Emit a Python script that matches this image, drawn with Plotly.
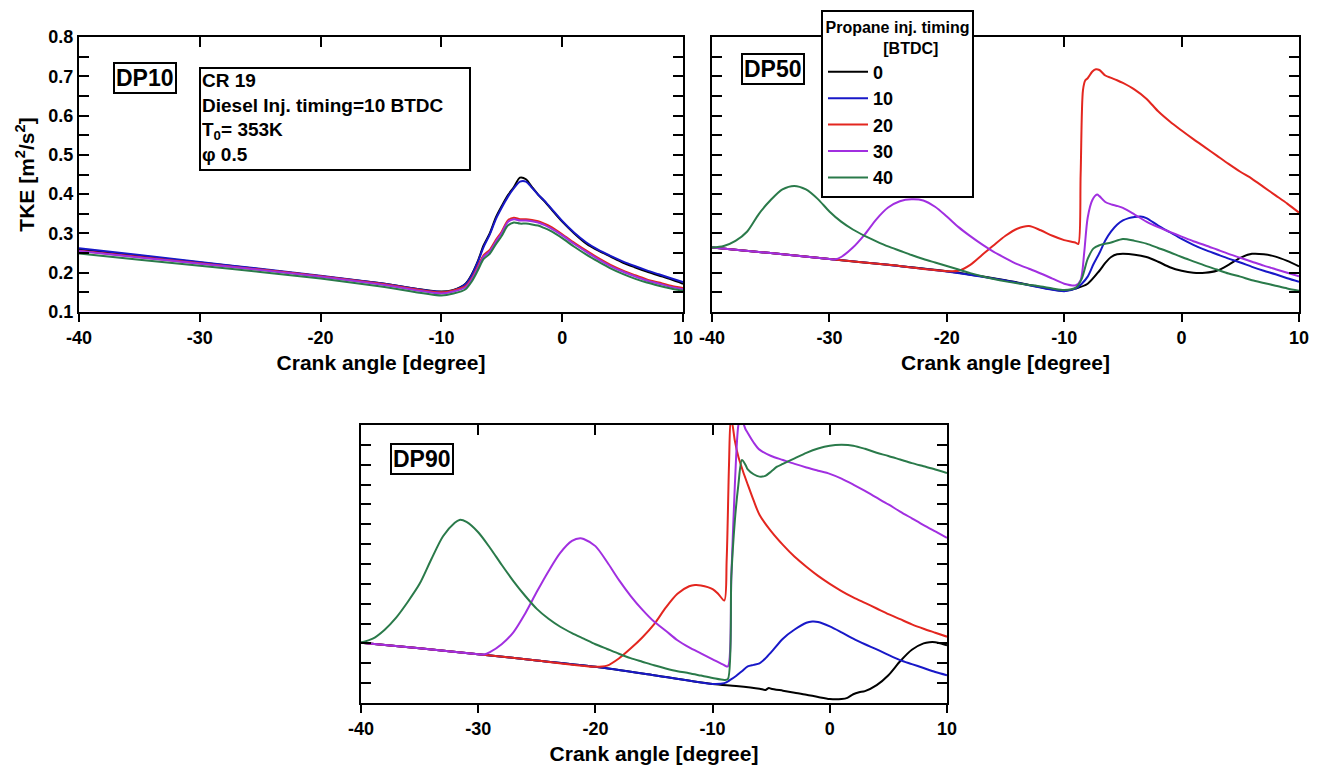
import plotly.graph_objects as go

# ---------------- data ----------------
x_ticks = [-40, -30, -20, -10, 0, 10]
x_ticktext = ["-40", "-30", "-20", "-10", "0", "10"]
y_ticks = [0.1, 0.2, 0.3, 0.4, 0.5, 0.6, 0.7, 0.8]
y_ticktext = ["0.1", "0.2", "0.3", "0.4", "0.5", "0.6", "0.7", "0.8"]
series_names = ["0", "10", "20", "30", "40"]
series_colors = ["#000000", "#1818c8", "#e3261f", "#a12fe0", "#2a7a4a"]

# DP10 (shared crank-angle grid)
dp10_x = [-40, -35, -30, -25, -20, -15, -10, -9, -8, -7.5, -7, -6.5, -6, -5.5, -5, -4.5, -4,
          -3.5, -3, -2.5, -2, -1.5, -1, 0, 1, 2, 3, 4, 5, 6, 7, 8, 9, 10]
dp10_y0 = [0.260, 0.243, 0.226, 0.209, 0.191, 0.173, 0.152, 0.156, 0.172, 0.195, 0.228, 0.270,
           0.300, 0.340, 0.370, 0.397, 0.418, 0.442, 0.438, 0.418, 0.399, 0.383, 0.365, 0.330,
           0.300, 0.274, 0.256, 0.241, 0.226, 0.214, 0.203, 0.193, 0.183, 0.172]
dp10_y10 = [0.262, 0.245, 0.227, 0.210, 0.192, 0.173, 0.151, 0.155, 0.171, 0.193, 0.226, 0.266,
            0.297, 0.336, 0.366, 0.393, 0.415, 0.432, 0.432, 0.416, 0.399, 0.384, 0.367, 0.332,
            0.302, 0.277, 0.258, 0.243, 0.229, 0.217, 0.206, 0.196, 0.186, 0.176]
dp10_y20 = [0.256, 0.240, 0.224, 0.208, 0.191, 0.172, 0.150, 0.155, 0.166, 0.185, 0.215, 0.245,
            0.258, 0.283, 0.305, 0.333, 0.340, 0.336, 0.336, 0.334, 0.331, 0.325, 0.318, 0.298,
            0.276, 0.256, 0.237, 0.220, 0.206, 0.194, 0.183, 0.175, 0.167, 0.161]
dp10_y30 = [0.255, 0.239, 0.223, 0.207, 0.190, 0.170, 0.147, 0.152, 0.163, 0.182, 0.211, 0.241,
            0.254, 0.279, 0.301, 0.329, 0.336, 0.333, 0.333, 0.331, 0.328, 0.322, 0.314, 0.295,
            0.273, 0.253, 0.234, 0.217, 0.203, 0.191, 0.180, 0.172, 0.164, 0.158]
dp10_y40 = [0.249, 0.233, 0.218, 0.202, 0.185, 0.165, 0.142, 0.147, 0.158, 0.177, 0.205, 0.235,
            0.248, 0.272, 0.294, 0.320, 0.328, 0.325, 0.325, 0.323, 0.320, 0.314, 0.307, 0.288,
            0.266, 0.246, 0.228, 0.211, 0.197, 0.185, 0.175, 0.167, 0.160, 0.154]

# DP50
dp50_x0 = [-40, -35, -30, -25, -20, -15, -10, -9, -8, -7, -6.5, -6, -5.5, -5, -4, -3, -2, -1,
           0, 1, 2, 3, 4, 5, 6, 7, 8, 9, 10]
dp50_y0 = [0.264, 0.250, 0.235, 0.220, 0.204, 0.181, 0.154, 0.160, 0.172, 0.205, 0.225, 0.240,
           0.247, 0.248, 0.246, 0.240, 0.228, 0.214, 0.205, 0.200, 0.200, 0.205, 0.220, 0.238,
           0.248, 0.247, 0.241, 0.230, 0.216]
dp50_x10 = [-40, -35, -30, -25, -20, -15, -10, -9, -8.5, -8, -7.5, -7, -6.5, -6, -5.5, -5, -4.5,
            -4, -3.5, -3, -2, -1, 0, 1, 2, 3, 4, 5, 6, 7, 8, 9, 10]
dp50_y10 = [0.264, 0.250, 0.235, 0.220, 0.203, 0.180, 0.153, 0.160, 0.172, 0.190, 0.222, 0.250,
            0.282, 0.305, 0.322, 0.333, 0.339, 0.342, 0.343, 0.339, 0.320, 0.303, 0.286, 0.271,
            0.258, 0.247, 0.236, 0.226, 0.215, 0.205, 0.196, 0.186, 0.177]
dp50_x20 = [-40, -35, -30, -25, -20, -19, -18, -17, -16, -15, -14, -13, -12, -11, -10, -9, -8.8,
            -8.6, -8.4, -8.2, -8, -7.6, -7.3, -7, -6.5, -6, -5.5, -5, -4, -3, -2, -1, 0, 1, 2, 3,
            4, 5, 6, 7, 8, 9, 10]
dp50_y20 = [0.264, 0.250, 0.235, 0.220, 0.204, 0.205, 0.220, 0.245, 0.270, 0.294, 0.312, 0.319,
            0.308, 0.294, 0.283, 0.276, 0.273, 0.450, 0.665, 0.690, 0.695, 0.712, 0.718, 0.716,
            0.702, 0.696, 0.690, 0.683, 0.666, 0.643, 0.611, 0.585, 0.562, 0.540, 0.519, 0.498,
            0.477, 0.457, 0.439, 0.418, 0.397, 0.376, 0.353]
dp50_x30 = [-40, -35, -30, -29.5, -29, -28, -27, -26, -25, -24, -23, -22, -21, -20, -19, -18,
            -17, -16, -15, -14, -13, -12, -11, -10, -9, -8.6, -8.3, -8, -7.6, -7.2, -7, -6.5, -6,
            -5.5, -5, -4, -3, -2, -1, 0, 1, 2, 3, 4, 5, 6, 7, 8, 9, 10]
dp50_y30 = [0.264, 0.250, 0.235, 0.234, 0.240, 0.264, 0.297, 0.336, 0.366, 0.382, 0.387, 0.384,
            0.368, 0.343, 0.316, 0.293, 0.272, 0.253, 0.237, 0.222, 0.210, 0.198, 0.185, 0.172,
            0.168, 0.181, 0.250, 0.340, 0.385, 0.399, 0.395, 0.380, 0.374, 0.370, 0.365, 0.348,
            0.330, 0.316, 0.304, 0.292, 0.280, 0.270, 0.259, 0.248, 0.238, 0.228, 0.218, 0.209,
            0.200, 0.191]
dp50_x40 = [-40, -39, -38, -37, -36, -35, -34, -33, -32, -31, -30, -29, -28, -27, -26, -25, -24,
            -23, -22, -21, -20, -19, -18, -17, -16, -15, -14, -13, -12, -11, -10, -9, -8.5, -8,
            -7.5, -7, -6, -5, -4, -3, -2, -1, 0, 1, 2, 3, 4, 5, 6, 7, 8, 9, 10]
dp50_y40 = [0.264, 0.268, 0.281, 0.305, 0.350, 0.385, 0.412, 0.421, 0.412, 0.388, 0.356, 0.330,
            0.310, 0.294, 0.280, 0.267, 0.256, 0.245, 0.235, 0.226, 0.217, 0.208, 0.199, 0.191,
            0.184, 0.178, 0.173, 0.169, 0.165, 0.160, 0.156, 0.162, 0.185, 0.235, 0.262, 0.270,
            0.277, 0.286, 0.281, 0.274, 0.263, 0.252, 0.240, 0.229, 0.218, 0.208, 0.198, 0.190,
            0.181, 0.174, 0.167, 0.160, 0.154]

# DP90
dp90_x0 = [-40, -35, -30, -25, -20, -15, -10, -8, -6, -5.5, -5.2, -5, -4, -3, -2, -1, 0, 1, 1.5,
           2, 2.5, 3, 4, 5, 6, 7, 8, 8.5, 9, 9.5, 10]
dp90_y0 = [0.252, 0.238, 0.223, 0.207, 0.191, 0.170, 0.148, 0.143, 0.136, 0.133, 0.138, 0.136,
           0.131, 0.126, 0.121, 0.115, 0.110, 0.110, 0.113, 0.122, 0.127, 0.130, 0.145, 0.170,
           0.205, 0.234, 0.250, 0.253, 0.253, 0.250, 0.245]
dp90_x10 = [-40, -35, -30, -25, -20, -15, -10, -9, -8.5, -8, -7.5, -7, -6.5, -6, -5.5, -5, -4,
            -3, -2, -1.5, -1, 0, 1, 2, 3, 4, 5, 6, 7, 8, 9, 10]
dp90_y10 = [0.252, 0.238, 0.223, 0.207, 0.191, 0.170, 0.148, 0.150, 0.158, 0.168, 0.180, 0.192,
            0.196, 0.200, 0.212, 0.228, 0.262, 0.285, 0.302, 0.305, 0.304, 0.293, 0.278, 0.262,
            0.248, 0.235, 0.221, 0.208, 0.198, 0.188, 0.178, 0.170]
dp90_x20 = [-40, -35, -30, -25, -20, -19, -18, -17, -16, -15, -14, -13, -12, -11.5, -11, -10,
            -9.5, -9, -8.8, -8.6, -8.45, -8.3, -8.1, -7.8, -7.4, -7, -6.5, -6, -5, -4, -3, -2, -1,
            0, 1, 2, 3, 4, 5, 6, 7, 8, 9, 10]
dp90_y20 = [0.252, 0.238, 0.223, 0.207, 0.191, 0.194, 0.212, 0.237, 0.265, 0.298, 0.340, 0.375,
            0.394, 0.397, 0.396, 0.387, 0.374, 0.358, 0.460, 0.700, 0.815, 0.800, 0.760, 0.720,
            0.683, 0.650, 0.610, 0.574, 0.532, 0.498, 0.468, 0.443, 0.420, 0.400, 0.382, 0.366,
            0.352, 0.338, 0.324, 0.311, 0.298, 0.287, 0.277, 0.267]
dp90_x30 = [-40, -35, -30, -29.5, -29, -28, -27, -26, -25, -24, -23, -22, -21.3, -21, -20, -19,
            -18, -17, -16, -15, -14, -13, -12, -11, -10, -9, -8.7, -8.4, -8.1, -7.8, -7.6, -7.2,
            -7, -6.5, -6, -5, -4, -3, -2, -1, 0, 1, 2, 3, 4, 5, 6, 7, 8, 9, 10]
dp90_y30 = [0.252, 0.238, 0.223, 0.222, 0.228, 0.248, 0.278, 0.325, 0.380, 0.432, 0.478, 0.508,
            0.515, 0.513, 0.495, 0.455, 0.410, 0.370, 0.335, 0.305, 0.282, 0.258, 0.240, 0.225,
            0.210, 0.195, 0.192, 0.420, 0.650, 0.800, 0.820, 0.790, 0.780, 0.756, 0.738, 0.722,
            0.712, 0.702, 0.693, 0.685, 0.677, 0.665, 0.650, 0.634, 0.617, 0.600, 0.582, 0.565,
            0.548, 0.532, 0.516]
dp90_x40 = [-40, -39, -38, -37, -36, -35, -34, -33, -32, -31.6, -31, -30, -29, -28, -27, -26,
            -25, -24, -23, -22, -21, -20, -19, -18, -17, -16, -15, -14, -13, -12, -11, -10, -9,
            -8.7, -8.4, -8.1, -7.8, -7.5, -7.2, -7, -6.5, -6, -5.5, -5, -4.5, -4, -3, -2, -1, 0,
            1, 2, 3, 4, 5, 6, 7, 8, 9, 10]
dp90_y40 = [0.252, 0.262, 0.284, 0.315, 0.355, 0.400, 0.462, 0.520, 0.554, 0.561, 0.556, 0.530,
            0.491, 0.448, 0.407, 0.370, 0.337, 0.312, 0.292, 0.276, 0.262, 0.248, 0.236, 0.224,
            0.213, 0.204, 0.195, 0.187, 0.180, 0.175, 0.169, 0.163, 0.158, 0.160, 0.420, 0.560,
            0.650, 0.712, 0.700, 0.688, 0.676, 0.670, 0.672, 0.683, 0.695, 0.702, 0.716, 0.730,
            0.741, 0.748, 0.750, 0.748, 0.740, 0.730, 0.722, 0.713, 0.704, 0.696, 0.688, 0.679]

panels = [
    ("x", "y", [(dp10_x, dp10_y0), (dp10_x, dp10_y10), (dp10_x, dp10_y20),
                (dp10_x, dp10_y30), (dp10_x, dp10_y40)], False),
    ("x2", "y2", [(dp50_x0, dp50_y0), (dp50_x10, dp50_y10), (dp50_x20, dp50_y20),
                  (dp50_x30, dp50_y30), (dp50_x40, dp50_y40)], True),
    ("x3", "y3", [(dp90_x0, dp90_y0), (dp90_x10, dp90_y10), (dp90_x20, dp90_y20),
                  (dp90_x30, dp90_y30), (dp90_x40, dp90_y40)], False),
]

# ---------------- figure ----------------
W, H = 1322, 766
FONT = "Arial, Liberation Sans, sans-serif"
fig = go.Figure()

for xa, ya, series, legend in panels:
    for i in range(5):
        xs, ys = series[i]
        fig.add_trace(go.Scatter(
            x=xs, y=ys, mode="lines", name=series_names[i],
            line=dict(color=series_colors[i], width=2, shape="spline", smoothing=0.8),
            xaxis=xa, yaxis=ya, showlegend=legend,
        ))

# dummy traces to register the top tick axes
for xa, ya in [("x4", "y"), ("x5", "y2"), ("x6", "y3")]:
    fig.add_trace(go.Scatter(x=[None], y=[None], xaxis=xa, yaxis=ya,
                             showlegend=False, hoverinfo="skip"))


def px_x(a, b):
    return [a / W, b / W]


def px_y(top, bottom):
    return [1 - bottom / H, 1 - top / H]


tickfont = dict(family=FONT, size=18, color="black", weight="bold")
titlefont = dict(family=FONT, size=21, color="black", weight="bold")


def xaxis(domain, anchor):
    return dict(domain=domain, anchor=anchor, range=[-40, 10], automargin=False,
                tickmode="array", tickvals=x_ticks, ticktext=x_ticktext,
                ticks="outside", ticklen=8, tickwidth=2, tickcolor="black",
                showline=True, linewidth=2, linecolor="black", mirror=True,
                showgrid=False, zeroline=False, tickfont=tickfont,
                title=dict(text="Crank angle [degree]", font=titlefont, standoff=9))


def topaxis(domain, anchor, over):
    return dict(domain=domain, anchor=anchor, overlaying=over, side="top",
                range=[-40, 10], tickmode="array", tickvals=x_ticks, automargin=False,
                ticks="inside", ticklen=10, tickwidth=2, tickcolor="black",
                showticklabels=False, showline=False, showgrid=False, zeroline=False)


def yaxis(domain, anchor, labels):
    d = dict(domain=domain, anchor=anchor, range=[0.1, 0.8], automargin=False,
             tickmode="array", tickvals=y_ticks, ticktext=y_ticktext,
             ticks="inside", ticklen=10, tickwidth=2, tickcolor="black",
             minor=dict(tickmode="linear", tick0=0.1, dtick=0.05, ticks="inside",
                        ticklen=10, tickwidth=2, tickcolor="black", showgrid=False),
             showline=True, linewidth=2, linecolor="black", mirror="ticks",
             showgrid=False, zeroline=False, tickfont=tickfont,
             showticklabels=labels)
    if labels:
        d["title"] = dict(text="TKE [m<sup>2</sup>/s<sup>2</sup>]", font=titlefont, standoff=8)
    return d


dx1, dx2, dx3 = px_x(79, 683), px_x(712, 1299), px_x(361, 947)
dyt, dyb = px_y(37, 312), px_y(425, 703)

fig.update_layout(
    width=W, height=H, autosize=False,
    margin=dict(l=0, r=0, t=0, b=0, autoexpand=False),
    paper_bgcolor="white", plot_bgcolor="white",
    xaxis=xaxis(dx1, "y"), yaxis=yaxis(dyt, "x", True),
    xaxis2=xaxis(dx2, "y2"), yaxis2=yaxis(dyt, "x2", False),
    xaxis3=xaxis(dx3, "y3"), yaxis3=yaxis(dyb, "x3", False),
    xaxis4=topaxis(dx1, "y", "x"), xaxis5=topaxis(dx2, "y2", "x2"),
    xaxis6=topaxis(dx3, "y3", "x3"),
    legend=dict(x=821 / W, y=1 - 10 / H, xanchor="left", yanchor="top",
                bgcolor="white", bordercolor="black", borderwidth=2,
                font=dict(family=FONT, size=18, color="black", weight="bold"),
                title=dict(text="Propane inj. timing<br>" + "&nbsp;" * 13 + "[BTDC]",
                           side="top center",
                           font=dict(family=FONT, size=16, color="black", weight="bold")),
                traceorder="normal", tracegroupgap=0, itemwidth=40),
    showlegend=True,
)

boxfont = dict(family=FONT, size=23, color="black", weight="bold")
for label, cx, cy in [("DP10", 145, 78), ("DP50", 773, 69), ("DP90", 422, 459)]:
    fig.add_annotation(text=label, xref="paper", yref="paper", x=cx / W, y=1 - cy / H,
                       xanchor="center", yanchor="middle", showarrow=False, font=boxfont,
                       bordercolor="black", borderwidth=2, borderpad=1, bgcolor="white")

fig.add_annotation(
    text="CR 19<br>Diesel Inj. timing=10 BTDC<br>T<sub>0</sub>= 353K<br>φ 0.5",
    xref="paper", yref="paper", x=199 / W, y=1 - 67 / H, xanchor="left", yanchor="top",
    showarrow=False, align="left", valign="top", width=266, height=98,
    font=dict(family=FONT, size=19, color="black", weight="bold"),
    bordercolor="black", borderwidth=2, borderpad=1, bgcolor="white")

fig.write_html("out.html")
